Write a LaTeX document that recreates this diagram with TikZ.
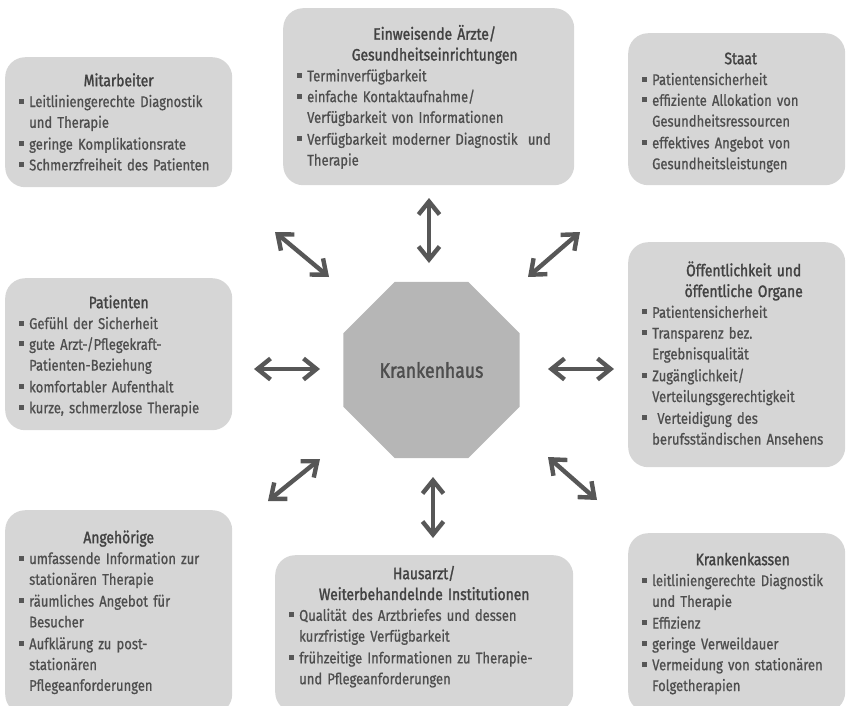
\documentclass[tikz,border=0pt]{standalone}
\usepackage{fontspec}
\setmainfont{Fira Sans}[FakeStretch=0.84, FakeBold=0.8]
\newfontfamily\hdfont{Fira Sans}[FakeStretch=0.84, FakeBold=1.6]
\usetikzlibrary{arrows.meta}
\usetikzlibrary{shapes.geometric}
\definecolor{boxgray}{HTML}{D6D6D6}
\definecolor{octgray}{HTML}{B6B6B6}
\definecolor{txtgray}{HTML}{4E4E4E}
\definecolor{hdgray}{HTML}{424242}
\definecolor{arrgray}{HTML}{575757}
\newcommand{\bul}{\textcolor{arrgray}{\rule[3.5pt]{4.5pt}{5pt}}}
\newcommand{\hd}[2][0pt]{{\centering\leftskip=#1 plus 1fil\hdfont\fontsize{16.5}{20.8}\selectfont\color{hdgray}#2\par}}
\newcommand{\itm}[1]{\par\noindent\makebox[10pt][l]{\bul}\begin{tabular}[t]{@{}l@{}}#1\end{tabular}}

\begin{document}
\begin{tikzpicture}
	[x=1pt, y=-1pt,
	stake/.style={fill=boxgray, rounded corners=20pt, anchor=north west, inner xsep=14pt,
		inner ysep=0pt, align=left, text=txtgray, font=\fontsize{15.5}{20.8}\selectfont},
	hospital/.style={regular polygon, regular polygon sides=8, minimum size=191pt,
		inner sep=0pt, fill=octgray, text=txtgray, font=\hdfont\fontsize{21}{24}\selectfont},
	biarrow/.style={{Straight Barb[length=13pt,width=21pt]}-{Straight Barb[length=13pt,width=21pt]},
		line width=4.4pt, draw=arrgray}]
	\useasboundingbox (0,0) rectangle (846,705);
	\clip (0,0) rectangle (846,705);
	% Anspruchsgruppen
	\node[stake, text width=199pt, text height=29pt, text depth=101pt] (mit) at (5,57) {%
		\hd{Mitarbeiter}
		\itm{Leitliniengerechte Diagnostik\\und Therapie}
		\itm{geringe Komplikationsrate}
		\itm{Schmerzfreiheit des Patienten}};
	\node[stake, text width=263pt, text height=31.5pt, text depth=145.5pt] (einw) at (283,8) {%
		\hd[12pt]{Einweisende Ärzte/\\Gesundheitseinrichtungen}
		\itm{Terminverfügbarkeit}
		\itm{einfache Kontaktaufnahme/\\Verfügbarkeit von Informationen}
		\itm{Verfügbarkeit moderner Diagnostik\ \ und\\Therapie}};
	\node[stake, text width=189pt, text height=31pt, text depth=121pt] (staat) at (628,33) {%
		\hd[8pt]{Staat}
		\itm{Patientensicherheit}
		\itm{effiziente Allokation von\\Gesundheitsressourcen}
		\itm{effektives Angebot von\\Gesundheitsleistungen}};
	\node[stake, text width=199pt, text height=30pt, text depth=122pt] (pat) at (5,278) {%
		\hd{Patienten}
		\itm{Gefühl der Sicherheit}
		\itm{gute Arzt-/Pflegekraft-\\Patienten-Beziehung}
		\itm{komfortabler Aufenthalt}
		\itm{kurze, schmerzlose Therapie}};
	\node[stake, text width=189pt, text height=34pt, text depth=191pt] (oeff) at (628,242) {%
		\hd[14pt]{Öffentlichkeit und\\öffentliche Organe}
		\itm{Patientensicherheit}
		\itm{Transparenz bez.\\Ergebnisqualität}
		\itm{Zugänglichkeit/\\Verteilungsgerechtigkeit}
		\itm{\ Verteidigung des\\berufsständischen Ansehens}};
	\node[stake, text width=199pt, text height=33pt, text depth=171pt] (ang) at (5,510) {%
		\hd{Angehörige}
		\itm{umfassende Information zur\\stationären Therapie}
		\itm{räumliches Angebot für\\Besucher}
		\itm{Aufklärung zu post-\\stationären\\Pflegeanforderungen}};
	\node[stake, text width=270pt, text height=24pt, text depth=133pt] (haus) at (275,555) {%
		\hd{Hausarzt/\\Weiterbehandelnde Institutionen}
		\itm{Qualität des Arztbriefes und dessen\\kurzfristige Verfügbarkeit}
		\itm{frühzeitige Informationen zu Therapie-\\und Pflegeanforderungen}};
	\node[stake, text width=189pt, text height=32pt, text depth=147pt] (kasse) at (628,533) {%
		\hd[12pt]{Krankenkassen}
		\itm{leitliniengerechte Diagnostik\\und Therapie}
		\itm{Effizienz}
		\itm{geringe Verweildauer}
		\itm{Vermeidung von stationären\\Folgetherapien}};
	% Mitte
	\node[hospital] (kh) at (431.5,370) {Krankenhaus};
	% Pfeile
	\coordinate (n1) at (429,198);
	\coordinate (n2) at (429,263);
	\coordinate (nw1) at (275,232);
	\coordinate (nw2) at (329,277);
	\coordinate (ne1) at (580,232);
	\coordinate (ne2) at (528,277);
	\coordinate (w1) at (254,369);
	\coordinate (w2) at (320,369);
	\coordinate (e1) at (614,369);
	\coordinate (e2) at (548,369);
	\coordinate (sw1) at (268,501);
	\coordinate (sw2) at (320,459);
	\coordinate (s1) at (433,538);
	\coordinate (s2) at (433,477);
	\coordinate (se1) at (597,500);
	\coordinate (se2) at (548,457);
	\draw[biarrow] (n1) -- (n2);
	\draw[biarrow] (nw1) -- (nw2);
	\draw[biarrow] (ne1) -- (ne2);
	\draw[biarrow] (w1) -- (w2);
	\draw[biarrow] (e1) -- (e2);
	\draw[biarrow] (sw1) -- (sw2);
	\draw[biarrow] (s1) -- (s2);
	\draw[biarrow] (se1) -- (se2);
\end{tikzpicture}
\end{document}
